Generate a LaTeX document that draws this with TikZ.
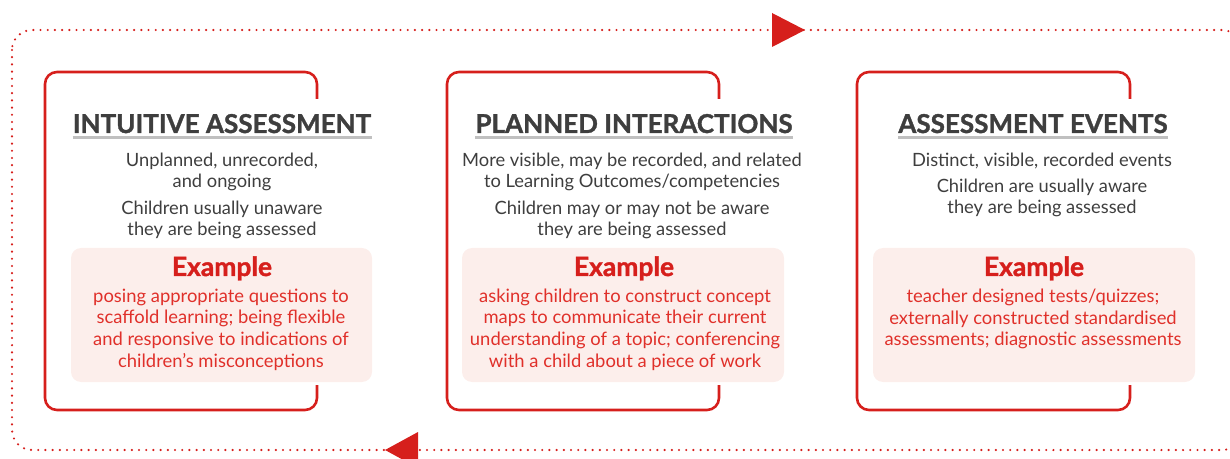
\documentclass[tikz,border=0pt]{standalone}
\usepackage{fontspec}
\setmainfont{Lato}
\newfontfamily\heavyfont{Lato}[BoldFeatures={FakeBold=1.3}]
\definecolor{loopred}{RGB}{214,31,28}
\definecolor{txtred}{RGB}{224,48,42}
\definecolor{examplebg}{RGB}{252,238,235}
\definecolor{ink}{RGB}{62,62,62}
\definecolor{rulegray}{RGB}{192,192,192}
\tikzset{
	boxframe/.style={draw=loopred, line width=1.3pt, rounded corners=6pt},
	exbox/.style={fill=examplebg, rounded corners=5pt},
	titletext/.style={font=\heavyfont\bfseries\fontsize{13}{15}\selectfont, text=ink, inner sep=0pt, anchor=base},
	titlerule/.style={draw=rulegray, line width=1.5pt},
	body/.style={font=\fontsize{9.15}{10.5}\selectfont, text=ink, align=center, inner sep=0pt, anchor=base},
	exhead/.style={font=\heavyfont\bfseries\fontsize{13.2}{15}\selectfont, text=loopred, inner sep=0pt, anchor=base},
	extext/.style={font=\fontsize{9.2}{10.75}\selectfont, text=txtred, align=center, inner sep=0pt, anchor=base},
	cycleline/.style={draw=loopred, line width=1.2pt, line cap=round, dash pattern=on 0pt off 3.6pt, rounded corners=10pt},
}
\begin{document}
\begin{tikzpicture}[x=0.5pt, y=-0.5pt]
	\useasboundingbox (0,0) rectangle (1230,459);
	% outer cycle
	\draw [cycleline] (12,30) rectangle (1242,450);
	\fill [loopred] (772,13) -- (805,30) -- (772,47) -- cycle;
	\fill [loopred] (418,432) -- (385,450) -- (418,468) -- cycle;
	% frames
	\draw [boxframe] (317,99) -- (317,72) -- (45,72) -- (45,410) -- (317,410) -- (317,385);
	\draw [boxframe] (719,99) -- (719,72) -- (447,72) -- (447,410) -- (719,410) -- (719,385);
	\draw [boxframe] (1130,99) -- (1130,72) -- (857,72) -- (857,410) -- (1130,410) -- (1130,385);
	% example boxes
	\fill [exbox] (71,248) rectangle (372,382);
	\fill [exbox] (462,248) rectangle (784,382);
	\fill [exbox] (873,248) rectangle (1195,382);
	% titles
	\node [titletext] (intuitive) at (222,133) {INTUITIVE ASSESSMENT};
	\node [titletext] (planned) at (634,133) {PLANNED INTERACTIONS};
	\node [titletext] (events) at (1033,133) {ASSESSMENT EVENTS};
	\draw [titlerule] ([yshift=-2.5pt]intuitive.base west) -- ([yshift=-2.5pt]intuitive.base east);
	\draw [titlerule] ([yshift=-2.5pt]planned.base west) -- ([yshift=-2.5pt]planned.base east);
	\draw [titlerule] ([yshift=-2.5pt]events.base west) -- ([yshift=-2.5pt]events.base east);
	% descriptions (base = last line)
	\node [body] (intuitive-a) at (222,188) {Unplanned, unrecorded,\\and ongoing};
	\node [body] (intuitive-b) at (222,236) {Children usually unaware\\they are being assessed};
	\node [body] (planned-a) at (632,188) {More visible, may be recorded, and related\\to Learning Outcomes/competencies};
	\node [body] (planned-b) at (632,236) {Children may or may not be aware\\they are being assessed};
	\node [body] (events-a) at (1042,167) {Distinct, visible, recorded events};
	\node [body] (events-b) at (1042,214) {Children are usually aware\\they are being assessed};
	% examples
	\node [exhead] (intuitive-ex) at (222,276) {Example};
	\node [exhead] (planned-ex) at (624,276) {Example};
	\node [exhead] (events-ex) at (1034,276) {Example};
	\node [extext] (intuitive-ex-text) at (221,367) {posing appropriate questions to\\scaffold learning; being flexible\\and responsive to indications of\\children's misconceptions};
	\node [extext] (planned-ex-text) at (625,367) {asking children to construct concept\\maps to communicate their current\\understanding of a topic; conferencing\\with a child about a piece of work};
	\node [extext] (events-ex-text) at (1033,346) {teacher designed tests/quizzes;\\externally constructed standardised\\assessments; diagnostic assessments};
\end{tikzpicture}
\end{document}
